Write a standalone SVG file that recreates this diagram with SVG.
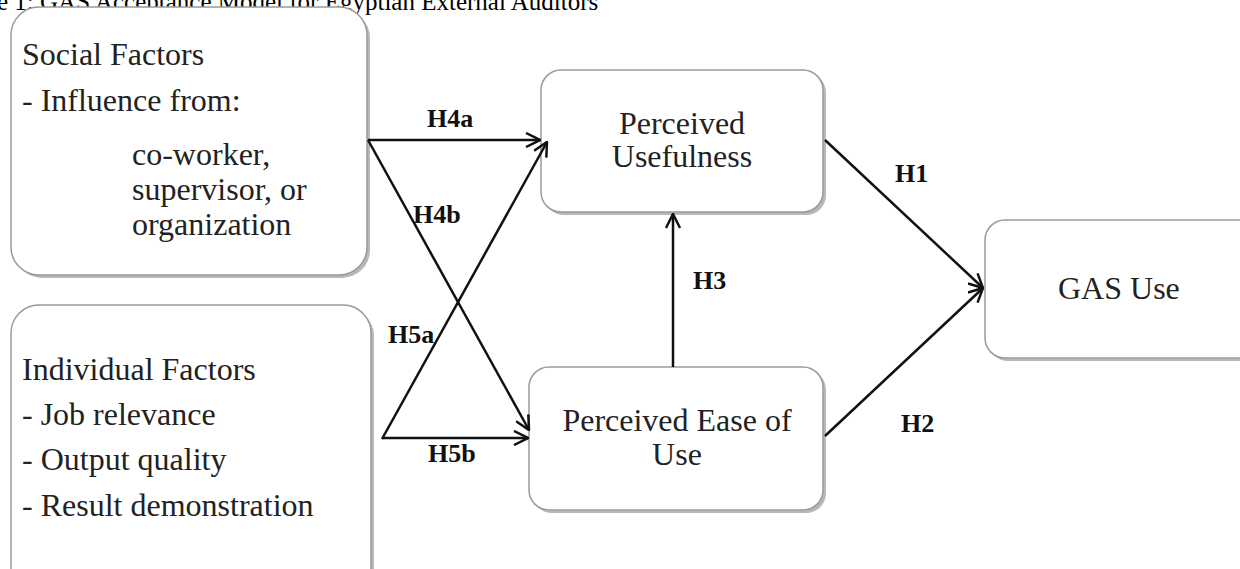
<svg xmlns="http://www.w3.org/2000/svg" width="1240" height="569" viewBox="0 0 1240 569">
<defs>
<marker id="arr" viewBox="0 0 16 16" refX="15" refY="8" markerWidth="16" markerHeight="16" markerUnits="userSpaceOnUse" orient="auto">
<path d="M1,1 L15,8 L1,15" fill="none" stroke="#111" stroke-width="2.5"/>
</marker>
</defs>
<style>
.box{fill:#fff;stroke:#9a9a9a;stroke-width:1.5}
.sh{fill:#b8b8b8}
.t{font-family:"Liberation Serif","Times New Roman",serif;font-size:32px;fill:#222}
.c{text-anchor:middle}
.h{font-family:"Liberation Serif","Times New Roman",serif;font-size:26px;font-weight:bold;fill:#111}
.ln{stroke:#111;stroke-width:2.5;fill:none;marker-end:url(#arr)}
.cap{font-family:"Liberation Serif","Times New Roman",serif;font-size:25px;fill:#000}
</style>
<rect width="1240" height="569" fill="#fff"/>
<text class="cap" x="-3" y="10">e 1: GAS Acceptance Model for Egyptian External Auditors</text>

<g id="social">
<rect class="sh" x="14" y="10" width="356" height="268" rx="28"/>
<rect class="box" x="11" y="7" width="356" height="268" rx="28"/>
<text class="t" x="22" y="65">Social Factors</text>
<text class="t" x="22" y="111">- Influence from:</text>
<text class="t" x="132" y="165">co-worker,</text>
<text class="t" x="132" y="200">supervisor, or</text>
<text class="t" x="132" y="235">organization</text>
</g>

<g id="individual">
<rect class="sh" x="14" y="308" width="360" height="290" rx="28"/>
<rect class="box" x="11" y="305" width="360" height="290" rx="28"/>
<text class="t" x="22" y="380">Individual Factors</text>
<text class="t" x="22" y="425">- Job relevance</text>
<text class="t" x="22" y="470">- Output quality</text>
<text class="t" x="22" y="516">- Result demonstration</text>
</g>

<g id="usefulness">
<rect class="sh" x="544" y="73" width="282" height="142" rx="20"/>
<rect class="box" x="541" y="70" width="282" height="142" rx="20"/>
<text class="t c" x="682" y="134">Perceived</text>
<text class="t c" x="682" y="167">Usefulness</text>
</g>

<g id="ease">
<rect class="sh" x="532" y="370" width="294" height="143" rx="20"/>
<rect class="box" x="529" y="367" width="294" height="143" rx="20"/>
<text class="t c" x="677" y="431">Perceived Ease of</text>
<text class="t c" x="677" y="465">Use</text>
</g>

<g id="gasuse">
<rect class="sh" x="988" y="223" width="280" height="138" rx="20"/>
<rect class="box" x="985" y="220" width="280" height="138" rx="20"/>
<text class="t" x="1058" y="299">GAS Use</text>
</g>

<g id="connectors">
<line class="ln" x1="368" y1="140" x2="540" y2="140"/>
<line class="ln" x1="368" y1="140" x2="529" y2="430"/>
<line class="ln" x1="382" y1="439" x2="547" y2="142"/>
<line class="ln" x1="382" y1="438" x2="528" y2="438"/>
<line class="ln" x1="673" y1="367" x2="673" y2="214"/>
<line class="ln" x1="825" y1="140" x2="983" y2="288"/>
<line class="ln" x1="825" y1="436" x2="983" y2="288"/>
<text class="h" x="427" y="127">H4a</text>
<text class="h" x="413" y="223">H4b</text>
<text class="h" x="388" y="343">H5a</text>
<text class="h" x="428" y="462">H5b</text>
<text class="h" x="693" y="289">H3</text>
<text class="h" x="895" y="182">H1</text>
<text class="h" x="901" y="432">H2</text>
</g>
</svg>
